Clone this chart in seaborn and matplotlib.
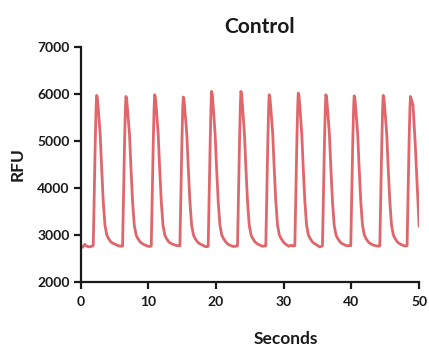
import matplotlib
matplotlib.use("Agg")
import matplotlib.pyplot as plt
import pandas as pd
import seaborn as sns

# trace (seconds, RFU)
seconds = [
    0.00, 0.30, 0.60, 0.90, 1.30,
    1.86, 2.01, 2.16, 2.28, 2.36, 2.46, 2.61, 2.89, 3.10, 3.34, 3.59, 3.86, 4.09, 4.46, 4.82, 5.26, 5.56, 5.96,
    6.19, 6.34, 6.49, 6.61, 6.69, 6.79, 6.94, 7.22, 7.43, 7.67, 7.92, 8.19, 8.42, 8.79, 9.15, 9.59, 9.89, 10.29,
    10.43, 10.58, 10.73, 10.85, 10.93, 11.03, 11.18, 11.46, 11.67, 11.91, 12.16, 12.43, 12.66, 13.03, 13.39, 13.83, 14.13, 14.53,
    14.66, 14.81, 14.96, 15.08, 15.16, 15.26, 15.41, 15.69, 15.90, 16.14, 16.39, 16.66, 16.89, 17.26, 17.62, 18.06, 18.36, 18.76,
    18.84, 18.99, 19.14, 19.26, 19.34, 19.44, 19.59, 19.87, 20.08, 20.32, 20.57, 20.84, 21.07, 21.44, 21.80, 22.24, 22.54, 22.94,
    23.17, 23.32, 23.47, 23.59, 23.67, 23.77, 23.92, 24.20, 24.41, 24.65, 24.90, 25.17, 25.40, 25.77, 26.13, 26.57, 26.87, 27.27,
    27.35, 27.50, 27.65, 27.77, 27.85, 27.95, 28.10, 28.38, 28.59, 28.83, 29.08, 29.35, 29.58, 29.95, 30.31, 30.75, 31.05, 31.45,
    31.64, 31.79, 31.94, 32.06, 32.14, 32.24, 32.39, 32.67, 32.88, 33.12, 33.37, 33.64, 33.87, 34.24, 34.60, 35.04, 35.34,
    35.72, 35.87, 36.02, 36.14, 36.22, 36.32, 36.47, 36.75, 36.96, 37.20, 37.45, 37.72, 37.95, 38.32, 38.68, 39.12, 39.42, 39.82,
    39.90, 40.05, 40.20, 40.32, 40.40, 40.50, 40.65, 40.93, 41.14, 41.38, 41.63, 41.90, 42.13, 42.50, 42.86, 43.30, 43.60, 44.00,
    44.19, 44.34, 44.49, 44.61, 44.69, 44.79, 44.94, 45.22, 45.43, 45.67, 45.92, 46.19, 46.42, 46.79, 47.15, 47.59, 47.89,
    48.22, 48.37, 48.52, 48.64, 48.72, 48.85, 49.10, 49.40, 49.70, 50.00,
]
rfu = [
    2750, 2740, 2800, 2760, 2745,
    2770, 3900, 5000, 5700, 5965, 5925, 5665, 5130, 4420, 3710, 3210, 3000, 2930, 2850, 2820, 2790, 2770, 2760,
    2760, 3900, 5000, 5700, 5943, 5903, 5643, 5130, 4420, 3710, 3210, 3000, 2930, 2850, 2810, 2780, 2760, 2755,
    2770, 3900, 5000, 5700, 5979, 5939, 5679, 5130, 4420, 3710, 3210, 3000, 2930, 2850, 2815, 2790, 2775, 2770,
    2770, 3900, 5000, 5700, 5929, 5889, 5629, 5130, 4420, 3710, 3210, 3000, 2930, 2850, 2810, 2780, 2755, 2750,
    2760, 3900, 5000, 5750, 6050, 6000, 5720, 5130, 4420, 3710, 3210, 3000, 2930, 2850, 2800, 2770, 2755, 2760,
    2770, 3900, 5000, 5750, 6050, 6000, 5720, 5130, 4420, 3710, 3210, 3000, 2930, 2850, 2810, 2775, 2760, 2765,
    2770, 3900, 5000, 5700, 5979, 5939, 5679, 5130, 4420, 3710, 3210, 3000, 2930, 2850, 2800, 2760, 2780, 2765,
    2770, 3900, 5000, 5720, 6014, 5974, 5714, 5130, 4420, 3710, 3210, 3000, 2930, 2850, 2810, 2770, 2745,
    2770, 3900, 5000, 5700, 5979, 5939, 5679, 5130, 4420, 3710, 3210, 3000, 2930, 2850, 2810, 2780, 2770, 2775,
    2770, 3900, 5000, 5700, 5957, 5917, 5657, 5130, 4420, 3710, 3210, 3000, 2930, 2850, 2810, 2780, 2770, 2760,
    2770, 3900, 5000, 5700, 5965, 5925, 5665, 5130, 4420, 3710, 3210, 3000, 2930, 2850, 2810, 2780, 2765,
    2770, 3900, 5000, 5700, 5943, 5880, 5750, 5000, 4100, 3180,
]

x_ticks = [0, 10, 20, 30, 40, 50]
y_ticks = [2000, 3000, 4000, 5000, 6000, 7000]

df = pd.DataFrame({'Seconds': seconds, 'RFU': rfu})

sns.set_style('ticks')
plt.rcParams['font.family'] = ['Lato', 'DejaVu Sans']
plt.rcParams['font.weight'] = 'bold'

fig = plt.figure(figsize=(4.29, 3.46), dpi=100)
ax = fig.add_axes([0.188, 0.185, 0.789, 0.68])

sns.lineplot(data=df, x='Seconds', y='RFU', estimator=None, sort=False,
             color='#E0666B', linewidth=2.0, ax=ax)

ax.set_xlim(0, 50)
ax.set_ylim(2000, 7000)
ax.set_xticks(x_ticks)
ax.set_yticks(y_ticks)
sns.despine(ax=ax)
for side in ['left', 'bottom']:
    ax.spines[side].set_linewidth(1.6)
    ax.spines[side].set_color('#1a1a1a')
ax.tick_params(axis='both', direction='out', length=5, width=1.6, color='#1a1a1a',
               labelsize=10, labelcolor='#1a1a1a')
ax.tick_params(axis='x', pad=5)
ax.tick_params(axis='y', pad=3)
for lab in ax.get_xticklabels() + ax.get_yticklabels():
    lab.set_fontweight('bold')

ax.set_title('Control', fontsize=15, fontweight='bold', color='#1a1a1a', x=0.53, pad=10)
ax.set_ylabel('RFU', fontsize=12.5, fontweight='bold', color='#1a1a1a')
ax.set_xlabel('Seconds', fontsize=12.5, fontweight='bold', color='#1a1a1a')
ax.xaxis.set_label_coords(0.606, -0.21)
ax.yaxis.set_label_coords(-0.162, 0.5)

fig.savefig('out.png', dpi=100)
